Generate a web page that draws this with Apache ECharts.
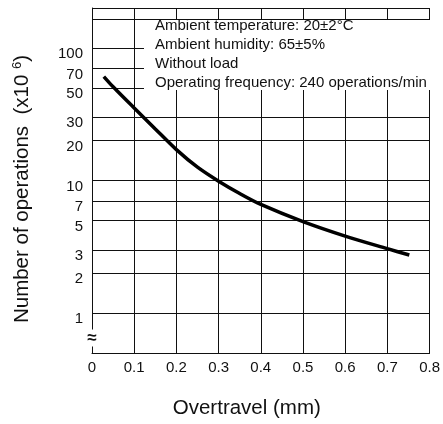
<!DOCTYPE html>
<html>
<head>
<meta charset="utf-8">
<title>Overtravel vs. number of operations</title>
<script src="https://cdn.jsdelivr.net/npm/echarts@6.0.0/dist/echarts.min.js"></script>
<style>
  html, body { margin: 0; padding: 0; background: #fff; }
  #chart { width: 443px; height: 424px; }
</style>
</head>
<body>
<div id="chart"></div>
<script>
  // overtravel (mm) / number of operations (x10^6)
  var overtravel = [0.028, 0.05, 0.1, 0.15, 0.2, 0.25, 0.3, 0.35, 0.4, 0.5, 0.6, 0.7, 0.752];
  var operations = [60.8, 50.9, 35.2, 24.5, 17.1, 12.6, 9.88, 7.98, 6.6, 4.9, 3.81, 3.06, 2.74];

  // y grid rows and labelled rows (number of operations, x10^6)
  var yGridValues = [0.5, 1, 2, 3, 5, 7, 10, 20, 30, 50, 70, 100, 165, 200];
  var yLabelValues = [1, 2, 3, 5, 7, 10, 20, 30, 50, 70, 100];

  var conditions = [
    'Ambient temperature: 20\u00b12\u00b0C',
    'Ambient humidity: 65\u00b15%',
    'Without load',
    'Operating frequency: 240 operations/min'
  ];

  var font = '"Liberation Sans", Arial, Helvetica, sans-serif';
  var gridLine = { show: true, lineStyle: { color: '#111', width: 1 } };

  // the y axis is logarithmic: work in log10 units on a plain value axis
  function lg(v) { return Math.log(v) / Math.LN10; }

  var curve = [];
  for (var i = 0; i < overtravel.length; i++) {
    curve.push([overtravel[i], lg(operations[i])]);
  }
  var yMin = lg(yGridValues[0]);
  var yMax = lg(yGridValues[yGridValues.length - 1]);

  var chart = echarts.init(document.getElementById('chart'), null, { renderer: 'canvas' });

  var option = {
    backgroundColor: '#fff',
    animation: false,
    grid: { left: 92, right: 8, top: 8, bottom: 70, containLabel: false },
    xAxis: {
      type: 'value',
      min: 0,
      max: 0.8,
      interval: 0.1,
      name: 'Overtravel (mm)',
      nameLocation: 'middle',
      nameGap: 45,
      nameTextStyle: { fontFamily: font, fontSize: 20.5, color: '#111', padding: [0, 28, 0, 0] },
      axisLine: { show: true, onZero: false, lineStyle: { color: '#111', width: 1 } },
      axisTick: { show: false },
      axisLabel: { fontFamily: font, fontSize: 15, color: '#111', margin: 7 },
      splitLine: gridLine
    },
    yAxis: {
      type: 'value',
      min: yMin,
      max: yMax,
      axisLine: { show: true, onZero: false, lineStyle: { color: '#111', width: 1 } },
      axisTick: { show: false, customValues: yGridValues.map(lg) },
      axisLabel: {
        customValues: yLabelValues.map(lg),
        formatter: function (v) { return String(Math.round(Math.pow(10, v))); },
        fontFamily: font, fontSize: 15, color: '#111', margin: 9,
        verticalAlign: 'top',
        lineHeight: 12
      },
      splitLine: gridLine
    },
    graphic: [
      {
        // y axis title
        type: 'text',
        x: 22,
        y: 189,
        rotation: Math.PI / 2,
        style: {
          text: 'Number of operations  (x10 {sup|6})',
          font: '20.5px ' + font,
          fill: '#111',
          align: 'center',
          verticalAlign: 'middle',
          rich: { sup: { font: '13px ' + font, fill: '#111', padding: [0, 0, 9, 0] } }
        }
      },
      {
        type: 'rect',
        z: 50,
        shape: { x: 144, y: 20, width: 293, height: 70 },
        style: { fill: '#fff' }
      },
      {
        type: 'text',
        z: 51,
        x: 155,
        y: 16,
        style: {
          text: conditions.join('\n'),
          font: '15px ' + font,
          lineHeight: 19,
          fill: '#111',
          verticalAlign: 'top'
        }
      },
      {
        // axis break mark
        type: 'text',
        z: 51,
        x: 92,
        y: 338,
        style: {
          text: '\u2248',
          font: 'bold 17px ' + font,
          fill: '#111',
          align: 'center',
          verticalAlign: 'middle',
          backgroundColor: '#fff'
        }
      }
    ],
    series: [
      {
        type: 'line',
        data: curve,
        smooth: 0.3,
        showSymbol: false,
        symbol: 'none',
        z: 60,
        lineStyle: { color: '#000', width: 3.5 }
      }
    ]
  };

  chart.setOption(option);
</script>
</body>
</html>
